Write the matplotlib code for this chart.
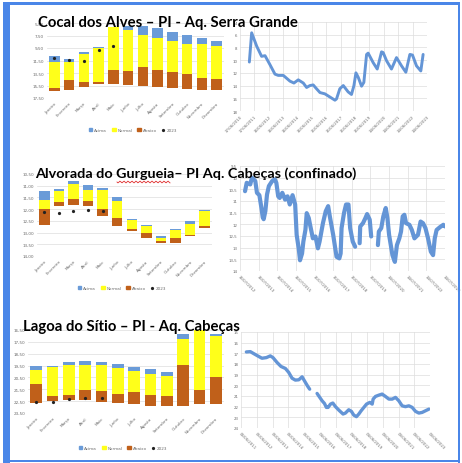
import numpy as np
import matplotlib
matplotlib.use("Agg")
import matplotlib.pyplot as plt
import matplotlib.patches as mpatches
from matplotlib.lines import Line2D

W, H = 462, 464

months = ["Janeiro", "Fevereiro", "Março", "Abril", "Maio", "Junho", "Julho",
          "Agosto", "Setembro", "Outubro", "Novembro", "Dezembro"]

# --- Cocal dos Alves (depth, m) ---
cocal_top = [10.8, 11.24, 10.07, 9.36, 6.15, 5.9, 6.0, 6.3, 6.86, 7.39, 7.82, 8.35]
cocal_acima = [11.77, 11.72, 10.44, 9.5, 6.15, 6.6, 7.39, 7.92, 8.4, 8.83, 8.83, 9.2]
cocal_normal = [15.94, 14.6, 14.98, 14.98, 13.0, 13.17, 12.57, 13.0, 13.28, 13.7, 14.24, 14.45]
cocal_abaixo = [16.33, 16.26, 15.78, 15.3, 15.3, 15.4, 15.6, 15.78, 15.94, 16.05, 16.17, 16.22]
cocal_2023 = [11.13, 11.4, 11.5, 9.84, 9.2]
cocal_yticks = [5.5, 7.5, 9.5, 11.5, 13.5, 15.5, 17.5]

cocal_t = [0.65, 0.81, 1.16, 1.50, 1.74, 2.08, 2.43, 2.66, 3.01, 3.47, 3.75, 4.05,
           4.40, 4.63, 4.86, 5.09, 5.32, 5.56, 5.90, 6.25, 6.60, 6.71, 6.94, 7.18,
           7.52, 7.75, 7.92, 8.06, 8.22, 8.45, 8.61, 8.80, 8.91, 9.26, 9.54, 9.84,
           9.95, 10.19, 10.53, 10.88, 11.23, 11.53, 11.81, 11.99, 12.27, 12.57, 12.73]
cocal_nivel = [10.3, 5.7, 7.8, 9.4, 9.3, 10.7, 12.2, 12.4, 12.4, 13.3, 13.6, 13.1,
               13.6, 14.3, 14.0, 13.9, 14.5, 15.1, 15.3, 15.8, 16.3, 16.1, 14.5, 14.0,
               15.0, 15.4, 14.0, 12.0, 12.7, 14.1, 13.5, 9.1, 8.9, 10.4, 11.4, 8.7,
               8.8, 10.1, 11.4, 9.6, 10.9, 11.9, 9.1, 9.2, 10.9, 11.7, 9.1]
cocal_dates = ["17/06/2010", "17/06/2011", "16/06/2012", "16/06/2013", "16/06/2014",
               "16/06/2015", "15/06/2016", "15/06/2017", "15/06/2018", "15/06/2019",
               "14/06/2020", "14/06/2021", "14/06/2022", "14/06/2023"]
cocal_line_yticks = [4, 6, 8, 10, 12, 14, 16, 18]

# --- Alvorada do Gurgueia ---
alv_top = [11.22, 11.14, 10.81, 10.96, 11.11, 11.5, 12.43, 12.69, 13.15, 12.86, 12.52, 12.03]
alv_acima = [11.6, 11.23, 10.93, 11.19, 11.19, 11.65, 12.47, 12.74, 13.23, 12.9, 12.65, 12.07]
alv_normal = [12.0, 11.71, 11.57, 11.65, 12.0, 12.39, 12.83, 13.0, 13.38, 13.22, 13.09, 12.72]
alv_abaixo = [12.69, 11.86, 11.82, 11.86, 12.29, 12.72, 12.93, 13.23, 13.46, 13.43, 13.15, 12.8]
alv_2023 = [12.12, 12.15, 12.1, 12.03, 12.1]
alv_yticks = [10.5, 11.0, 11.5, 12.0, 12.5, 13.0, 13.5, 14.0]

alv_t = [0.27, 0.36, 0.55, 0.64, 0.82, 0.91, 1.04, 1.15, 1.22, 1.27, 1.36, 1.45, 1.55,
         1.73, 1.87, 1.95, 2.05, 2.13, 2.27, 2.42, 2.55, 2.67, 2.82, 2.96, 3.04, 3.15,
         3.22, 3.33, 3.40, 3.51, 3.58, 3.69, 3.76, 3.91, 4.05, 4.18, 4.27, 4.45, 4.60,
         4.73, 4.82, 5.00, 5.18, 5.33, 5.40, 5.45, 5.58, 5.69, 5.82, 5.91, 6.05, 6.18,
         6.30, 6.42, 6.45, 6.60, 6.73, 6.82, 6.96, 7.04, 7.20, 7.40, 7.45, 7.58, 7.69,
         7.82, 7.91, 8.00, 8.18, 8.31, 8.42, 8.55, 8.64, 8.73, 8.82, 8.91, 9.09, 9.22,
         9.36, 9.55, 9.69, 9.82, 9.95, 10.09, 10.24, 10.36, 10.45, 10.55, 10.73, 10.91, 11.0]
alv_nivel = [10.58, 10.22, 10.29, 10.0, 10.14, 10.65, 10.75, 11.3, 11.7, 11.78, 11.44,
             10.72, 10.36, 10.14, 10.07, 10.22, 10.8, 10.87, 10.65, 10.94, 10.8, 11.15,
             10.75, 11.15, 12.45, 13.03, 13.54, 13.25, 12.74, 12.24, 11.52, 11.73, 12.02,
             12.6, 12.52, 13.03, 12.74, 11.95, 11.44, 11.22, 11.66, 12.45, 13.39, 13.46,
             13.25, 12.16, 11.52, 11.15, 11.15, 12.16, 12.74, 12.96, np.nan, 12.81, 12.09,
             11.95, 11.73, 11.56, 11.8, 12.52, np.nan, 12.89, 12.31, 12.16, 11.66, 11.3,
             11.73, 12.45, 13.32, 13.61, 12.89, 12.6, 12.31, 11.66, 11.59, 11.95, 12.02,
             12.24, 12.6, 12.45, 11.88, 11.95, 12.16, 12.6, 13.17, 13.32, 12.6, 12.24,
             12.12, 12.02, 12.09]
alv_dates = ["16/07/2012", "16/07/2013", "16/07/2014", "16/07/2015", "15/07/2016",
             "15/07/2017", "15/07/2018", "15/07/2019", "14/07/2020", "14/07/2021",
             "14/07/2022", "14/07/2023"]
alv_line_yticks = [9.5, 10, 10.5, 11, 11.5, 12, 12.5, 13, 13.5, 14]

# --- Lagoa do Sitio ---
lagoa_top = [19.52, 19.52, 19.24, 19.1, 19.16, 19.38, 19.6, 19.8, 20.0, 16.8, 16.5, 16.8]
lagoa_acima = [19.86, 19.66, 19.44, 19.44, 19.44, 19.72, 19.97, 20.22, 20.37, 17.22, 16.5, 17.0]
lagoa_normal = [21.06, 22.1, 22.0, 21.54, 21.68, 21.9, 21.76, 21.99, 22.05, 19.44, 21.54, 20.45]
lagoa_abaixo = [22.69, 22.47, 22.38, 22.4, 22.55, 22.69, 22.74, 22.89, 22.94, 22.89, 22.74, 22.74]
lagoa_2023 = [22.6, 22.55, 22.32, 22.27, 22.27]
lagoa_yticks = [16.5, 17.5, 18.5, 19.5, 20.5, 21.5, 22.5, 23.5]

lagoa_t = [0.34, 0.59, 0.80, 1.06, 1.33, 1.61, 1.86, 2.03, 2.29, 2.54, 2.82, 3.03, 3.24,
           3.45, 3.67, 3.88, 4.09, 4.24, 4.36, 4.60, 4.83, 5.00, 5.15, 5.30, 5.42, 5.53,
           5.68, 5.83, 6.00, 6.21, 6.48, 6.63, 6.84, 7.01, 7.16, 7.33, 7.48, 7.63, 7.80,
           7.97, 8.18, 8.33, 8.39, 8.54, 8.75, 8.96, 9.17, 9.39, 9.60, 9.81, 10.02, 10.23,
           10.44, 10.66, 10.87, 11.08, 11.29, 11.50, 11.72, 11.93]
lagoa_nivel = [16.87, 16.84, 17.02, 17.24, 17.46, 17.4, 17.24, 17.4, 17.86, 18.23, 18.42,
               18.79, 19.33, 19.51, 19.48, 19.2, 19.73, 20.1, 20.36, np.nan, 20.76, 21.13,
               21.45, 21.7, 22.07, 22.07, 21.76, 21.66, 22.0, 22.32, 22.69, 22.6, 22.29,
               22.44, 22.79, 22.94, 22.69, 22.38, 22.07, 21.76, 21.6, 21.76, 21.29, 21.04,
               20.92, 20.82, 21.04, 21.29, 21.29, 21.13, 21.45, 21.92, 22.0, 21.92, 22.07,
               22.44, 22.6, 22.54, 22.38, 22.23]
lagoa_dates = ["06/06/2011", "05/06/2012", "05/06/2013", "05/06/2014", "05/06/2015",
               "04/06/2016", "04/06/2017", "04/06/2018", "04/06/2019", "03/06/2020",
               "03/06/2021", "03/06/2022", "03/06/2023"]
lagoa_line_yticks = [15, 16, 17, 18, 19, 20, 21, 22, 23, 24]

C_ACIMA = "#6A9BD8"
C_NORMAL = "#FFFF1A"
C_ABAIXO = "#C0601A"
C_LINE = "#6495D6"
C_GRID = "#DDDDDD"
C_TICK = "#6B6B6B"
C_FRAME = "#4A86E8"

fig = plt.figure(figsize=(W / 100, H / 100), dpi=100)
fig.patch.set_facecolor("white")


def px_axes(x0, y0, x1, y1):
    return fig.add_axes([x0 / W, 1 - y1 / H, (x1 - x0) / W, (y1 - y0) / H])


def comma(v, dec):
    return f"{v:.{dec}f}".replace(".", ",")


def bar_chart(box, top, acima, normal, abaixo, d2023, yticks, legend_xy):
    ax = px_axes(*box)
    x = np.arange(len(months))
    top = np.array(top); acima = np.array(acima)
    normal = np.array(normal); abaixo = np.array(abaixo)
    w = 0.72
    ax.bar(x, acima - top, bottom=top, width=w, color=C_ACIMA, zorder=2)
    ax.bar(x, normal - acima, bottom=acima, width=w, color=C_NORMAL, zorder=2)
    ax.bar(x, abaixo - normal, bottom=normal, width=w, color=C_ABAIXO, zorder=2)
    ax.plot(x[:len(d2023)], d2023, "o", ms=1.3, color="#222222", zorder=3)
    ax.set_xlim(-0.5, len(months) - 0.5)
    ax.set_ylim(yticks[-1], yticks[0])
    ax.set_yticks(yticks)
    ax.set_yticklabels([comma(v, 2) for v in yticks])
    ax.set_xticks(x)
    ax.set_xticklabels(months, rotation=45, ha="right", rotation_mode="anchor")
    ax.tick_params(length=0, labelsize=3, colors=C_TICK, pad=2)
    ax.grid(axis="y", color=C_GRID, lw=0.5, zorder=0)
    for s in ax.spines.values():
        s.set_visible(False)
    handles = [mpatches.Patch(color=C_ACIMA, label="Acima"),
               mpatches.Patch(color=C_NORMAL, label="Normal"),
               mpatches.Patch(color=C_ABAIXO, label="Abaixo"),
               Line2D([], [], marker="o", ls="", ms=1.3, color="#222222", label="2023")]
    fig.legend(handles=handles, loc="center",
               bbox_to_anchor=(legend_xy[0] / W, 1 - legend_xy[1] / H),
               ncol=4, fontsize=3, frameon=False, handlelength=0.9, handleheight=0.9,
               handletextpad=0.4, columnspacing=1.2, labelcolor=C_TICK)
    return ax


def line_chart(box, t, nivel, xlabels, yticks, ylab_dec, rot, lw):
    ax = px_axes(*box)
    ax.plot(t, nivel, color=C_LINE, lw=lw, solid_capstyle="round",
            solid_joinstyle="round", zorder=2)
    n = len(xlabels)
    ax.set_xlim(0, n - 1)
    ax.set_ylim(yticks[-1], yticks[0])
    ax.set_yticks(yticks)
    ax.set_yticklabels([comma(v, 1).replace(",0", "") if ylab_dec else str(v) for v in yticks])
    ax.set_xticks(np.arange(n))
    if rot > 0:
        ax.set_xticklabels(xlabels, rotation=45, ha="right", rotation_mode="anchor")
    else:
        ax.set_xticklabels(xlabels, rotation=-45, ha="left", rotation_mode="anchor")
    ax.tick_params(length=0, labelsize=2.8, colors=C_TICK, pad=2)
    ax.grid(True, color=C_GRID, lw=0.5, zorder=0)
    for s in ax.spines.values():
        s.set_visible(False)
    return ax


# row 1
bar_chart((47, 24, 224, 99), cocal_top, cocal_acima, cocal_normal, cocal_abaixo,
          cocal_2023, cocal_yticks, (133, 131))
line_chart((240, 23, 427, 112), cocal_t, cocal_nivel, cocal_dates, cocal_line_yticks,
           False, 45, 2.1)

# row 2
bar_chart((37, 175, 212, 257), alv_top, alv_acima, alv_normal, alv_abaixo,
          alv_2023, alv_yticks, (122, 289))
line_chart((240, 167, 445, 272), alv_t, alv_nivel, alv_dates, alv_line_yticks,
           True, -45, 3.0)

# row 3
bar_chart((28, 331, 224, 414), lagoa_top, lagoa_acima, lagoa_normal, lagoa_abaixo,
          lagoa_2023, lagoa_yticks, (123, 449))
line_chart((241, 333, 430, 429), lagoa_t, lagoa_nivel, lagoa_dates, lagoa_line_yticks,
           False, -45, 2.4)

# titles
title_kw = dict(fontsize=10.7, fontweight="bold", family="Lato", color="black",
                va="center", ha="left", zorder=10)
fig.text(38 / W, 1 - 23 / H, "Cocal dos Alves – PI - Aq. Serra Grande", **title_kw)
fig.text(35 / W, 1 - 174 / H, "Alvorada do Gurgueia– PI Aq. Cabeças (confinado)",
         **dict(title_kw, fontsize=10.4))
fig.text(23 / W, 1 - 327 / H, "Lagoa do Sítio – PI - Aq. Cabeças", **title_kw)

# spell-check squiggle under "Gurgueia"
sx = np.linspace(117, 170, 60)
sy = 183 + 0.9 * np.sin((sx - 117) * 2 * np.pi / 4.0)
fig.add_artist(Line2D(sx / W, 1 - sy / H, color="#E03030", lw=0.6))

# slide frame
fig.add_artist(mpatches.Rectangle((3 / W, 0), 7 / W, 1 - 3 / H, color=C_FRAME, lw=0))
fig.add_artist(mpatches.Rectangle((3 / W, 1 - 6 / H), 457 / W, 3 / H, color=C_FRAME, lw=0))
fig.add_artist(mpatches.Rectangle((458 / W, 1 - 464 / H), 2 / W, 461 / H, color=C_FRAME, lw=0))
fig.add_artist(mpatches.Rectangle((3 / W, 1 - 463 / H), 457 / W, 2 / H, color=C_FRAME, lw=0))

fig.savefig("out.png", dpi=100)
